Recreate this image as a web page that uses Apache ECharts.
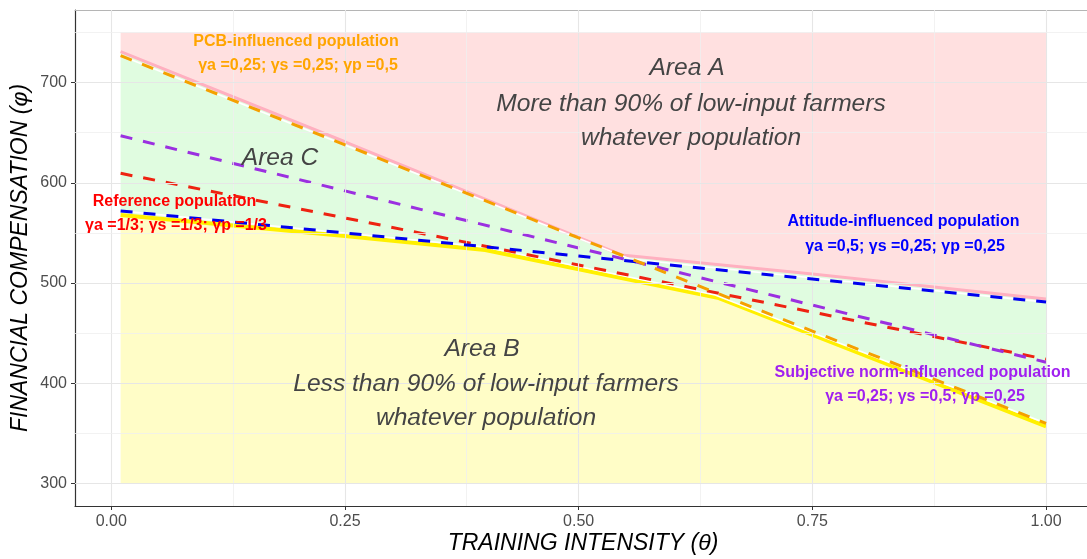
<!DOCTYPE html>
<html><head><meta charset="utf-8">
<script src="https://cdn.jsdelivr.net/npm/echarts@6/dist/echarts.min.js"></script>
<style>html,body{margin:0;padding:0;background:#fff}#c{width:1087px;height:559px}</style>
</head><body><div id="c"></div>
<script>
// ---- axes / ticks ----
const xTicks = [0, 0.25, 0.5, 0.75, 1.0];
const xTickLabels = ['0.00', '0.25', '0.50', '0.75', '1.00'];
const xMinorGrid = [0.125, 0.375, 0.625, 0.875];
const yTicks = [300, 400, 500, 600, 700];
const yTickLabels = ['300', '400', '500', '600', '700'];
const yMinorGrid = [350, 450, 550, 650, 750];
const xRange = [-0.0388, 1.0438];
const yRange = [277.5, 772.5];
const regionX = [0.01, 1.0];
const regionY = [300, 750];

// ---- population curves (theta, phi) ----
const popTheta = [0.01, 0.25, 0.5, 0.75, 1.0];
const pcbPhi = [727, 638, 545, 452, 360];
const attitudePhi = [572, 550, 527, 504, 481];
const referencePhi = [609.5, 565, 518, 471, 424];
const subjectivePhi = [647, 592, 535, 478, 421];

// ---- area boundaries ----
const upperTheta = [0.01, 0.25, 0.546, 0.75, 1.0];
const upperPhi = [731, 641, 528, 509, 484];
const lowerTheta = [0.01, 0.25, 0.40, 0.65, 1.0];
const lowerPhi = [568, 547, 533, 485, 357];
const envTopTheta = [0.01, 0.555, 1.0];
const envTopPhi = [727, 524, 481];
const envBotTheta = [0.01, 0.40, 0.646, 1.0];
const envBotPhi = [572, 536, 488, 360];

const zip = (a, b) => a.map((v, i) => [v, b[i]]);
const upper = zip(upperTheta, upperPhi);
const lower = zip(lowerTheta, lowerPhi);

const regions = [
  upper.concat([[regionX[1], regionY[1]], [regionX[0], regionY[1]]]),
  upper.concat(lower.slice().reverse()),
  lower.concat([[regionX[1], regionY[0]], [regionX[0], regionY[0]]])
];
const regionFill = ['rgba(255,0,0,0.12)', 'rgba(0,230,0,0.12)', 'rgba(255,245,0,0.22)'];

const FONT = "'Liberation Sans', Arial, sans-serif";

function gridLines() {
  const out = [];
  xTicks.forEach(v => out.push({xAxis: v, lineStyle: {color: '#e6e6e6', width: 1.1, type: 'solid'}}));
  xMinorGrid.forEach(v => out.push({xAxis: v, lineStyle: {color: '#efefef', width: 0.8, type: 'solid'}}));
  yTicks.forEach(v => out.push({yAxis: v, lineStyle: {color: '#e6e6e6', width: 1.1, type: 'solid'}}));
  yMinorGrid.forEach(v => out.push({yAxis: v, lineStyle: {color: '#efefef', width: 0.8, type: 'solid'}}));
  return out;
}

function dashed(name, phi, color, z) {
  return {
    type: 'line', name, data: zip(popTheta, phi), showSymbol: false, symbol: 'none', z,
    lineStyle: {color, width: 3, type: [12, 11]}, silent: true, animation: false
  };
}
function solid(name, data, color, width, z) {
  return {
    type: 'line', name, data, showSymbol: false, symbol: 'none', z,
    lineStyle: {color, width, type: 'solid'}, silent: true, animation: false
  };
}

function txt(x, y, text, opts) {
  return {
    type: 'text', x, y, z: 100, silent: true,
    style: Object.assign({text, align: 'center', verticalAlign: 'middle', fontFamily: FONT}, opts)
  };
}
const areaTxt = {fontSize: 24.6, fontStyle: 'italic', fill: '#444444'};
const bold = (c) => ({fontSize: 16, fontWeight: 'bold', fill: c});
const titleTxt = {fontSize: 23, fontStyle: 'italic', fill: '#000'};

const chart = echarts.init(document.getElementById('c'), null, {renderer: 'canvas'});
chart.setOption({
  animation: false,
  grid: {left: 75, top: 10, width: 1012, height: 496, show: false},
  xAxis: [{
    type: 'value', min: xRange[0], max: xRange[1],
    axisLine: {show: true, onZero: false, lineStyle: {color: '#333', width: 1.2}},
    axisTick: {show: true, customValues: xTicks, length: 4, lineStyle: {color: '#333'}},
    axisLabel: {customValues: xTicks, formatter: v => xTickLabels[xTicks.indexOf(v)], color: '#4d4d4d', fontSize: 16, fontFamily: FONT, margin: 8},
    splitLine: {show: false}
  }, {
    type: 'value', position: 'top', min: xRange[0], max: xRange[1],
    axisLine: {show: true, onZero: false, lineStyle: {color: '#b5b5b5', width: 1}},
    axisTick: {show: false}, axisLabel: {show: false}, splitLine: {show: false}
  }],
  yAxis: {
    type: 'value', min: yRange[0], max: yRange[1],
    axisLine: {show: true, onZero: false, lineStyle: {color: '#333', width: 1.2}},
    axisTick: {show: true, customValues: yTicks, length: 4, lineStyle: {color: '#333'}},
    axisLabel: {customValues: yTicks, formatter: v => yTickLabels[yTicks.indexOf(v)], color: '#4d4d4d', fontSize: 16, fontFamily: FONT, margin: 8},
    splitLine: {show: false}
  },
  series: [
    {type: 'line', data: [], z: 0, silent: true, animation: false,
     markLine: {silent: true, symbol: 'none', label: {show: false}, animation: false, emphasis: {disabled: true}, data: gridLines()}},
    {type: 'custom', z: 1, silent: true, animation: false,
     data: [[0.5, 500], [0.5, 500], [0.5, 500]],
     renderItem: (params, api) => ({
       type: 'polygon',
       shape: {points: regions[params.dataIndex].map(p => api.coord(p))},
       style: {fill: regionFill[params.dataIndex]}
     })},
    solid('upper', upper, '#ffb0c0', 3, 2),
    solid('lower', lower, '#fff000', 4, 2),
    solid('envTop', zip(envTopTheta, envTopPhi), '#ffffff', 1.6, 3),
    solid('envBot', zip(envBotTheta, envBotPhi), '#ffffff', 1.6, 3),
    dashed('Reference population', referencePhi, '#ee2211', 4),
    dashed('Subjective norm-influenced population', subjectivePhi, '#9b30e0', 4),
    dashed('Attitude-influenced population', attitudePhi, '#0000ee', 5),
    dashed('PCB-influenced population', pcbPhi, '#f5a000', 5)
  ],
  graphic: [
    txt(687, 68, 'Area A', areaTxt),
    txt(691, 104, 'More than 90% of low-input farmers', areaTxt),
    txt(691, 138, 'whatever population', areaTxt),
    txt(280, 158, 'Area C', areaTxt),
    txt(482, 349, 'Area B', areaTxt),
    txt(486, 384, 'Less than 90% of low-input farmers', areaTxt),
    txt(486, 418, 'whatever population', areaTxt),
    txt(296, 42, 'PCB-influenced population', bold('#ffa500')),
    txt(298, 65.5, 'γa =0,25; γs =0,25; γp =0,5', bold('#ffa500')),
    txt(174.5, 201.5, 'Reference population', bold('#ff0000')),
    txt(176, 226, 'γa =1/3; γs =1/3; γp =1/3', bold('#ff0000')),
    txt(903.5, 222, 'Attitude-influenced population', bold('#0000ff')),
    txt(905, 246.3, 'γa =0,5; γs =0,25; γp =0,25', bold('#0000ff')),
    txt(922.5, 372.5, 'Subjective norm-influenced population', bold('#a020f0')),
    txt(925, 396.3, 'γa =0,25; γs =0,5; γp =0,25', bold('#a020f0')),
    txt(583, 544, 'TRAINING INTENSITY (θ)', titleTxt),
    Object.assign(txt(21, 258, 'FINANCIAL COMPENSATION (φ)', titleTxt), {rotation: Math.PI / 2})
  ]
});
</script></body></html>
